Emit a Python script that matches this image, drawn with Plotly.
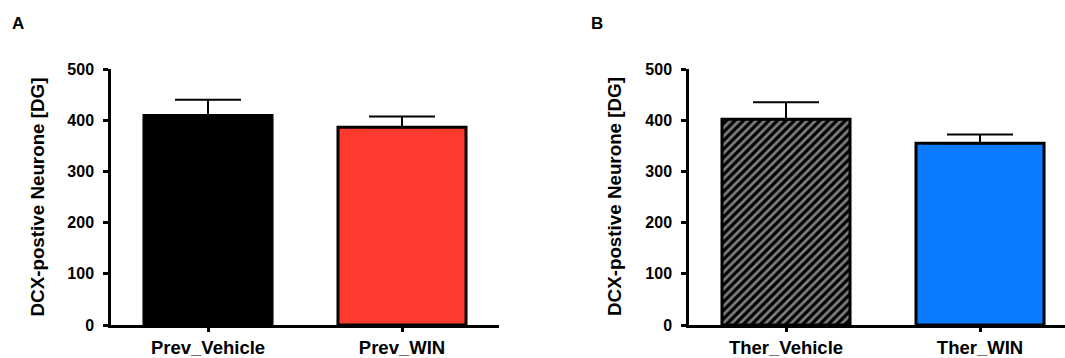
import plotly.graph_objects as go

# Data
cats_a = ["Prev_Vehicle", "Prev_WIN"]
vals_a = [409, 386]
err_a = [31, 21]

cats_b = ["Ther_Vehicle", "Ther_WIN"]
vals_b = [402, 355]
err_b = [33, 17]

y_ticks = [0, 100, 200, 300, 400, 500]
y_title = "DCX-postive Neurone [DG]"
panel_labels = ["A", "B"]

W, H = 1065, 358
FONT = "Arial, 'Liberation Sans', sans-serif"

fig = go.Figure()

fig.add_trace(go.Bar(
    x=cats_a, y=vals_a, width=0.66,
    marker=dict(color=["#000000", "#FF3B30"], line=dict(color="black", width=3)),
    error_y=dict(type="data", array=err_a, arrayminus=[0, 0], symmetric=False,
                 color="black", thickness=2, width=33),
    xaxis="x", yaxis="y", showlegend=False,
))

# Panel B: hatched vehicle bar
fig.add_trace(go.Bar(
    x=cats_b[:1], y=vals_b[:1], width=0.66,
    marker=dict(color="black", line=dict(color="black", width=3),
                pattern=dict(shape="/", fgcolor="white", size=6, solidity=0.45,
                             fillmode="overlay")),
    error_y=dict(type="data", array=err_b[:1], arrayminus=[0], symmetric=False,
                 color="black", thickness=2, width=33),
    xaxis="x2", yaxis="y2", showlegend=False,
))
# Panel B: blue WIN bar
fig.add_trace(go.Bar(
    x=cats_b[1:], y=vals_b[1:], width=0.66,
    marker=dict(color="#0A7AFF", line=dict(color="black", width=3)),
    error_y=dict(type="data", array=err_b[1:], arrayminus=[0], symmetric=False,
                 color="black", thickness=2, width=33),
    xaxis="x2", yaxis="y2", showlegend=False,
))

top, bottom = 69, 327
mb = H - bottom

def px_x(p):
    return p / W

axis_common = dict(showline=True, linecolor="black", linewidth=2.5, showgrid=False,
                   zeroline=False, ticks="outside", tickcolor="black", tickwidth=2.5,
                   mirror=False)

fig.update_layout(
    width=W, height=H,
    margin=dict(l=0, r=0, t=top, b=mb),
    paper_bgcolor="white", plot_bgcolor="white",
    font=dict(family=FONT, color="black"),
    barmode="overlay",
    xaxis=dict(domain=[px_x(111), px_x(499)], range=[-0.5, 1.5], anchor="y",
               categoryorder="array", categoryarray=cats_a,
               ticklen=4, tickfont=dict(size=18.5, weight="bold", family=FONT),
               **axis_common),
    yaxis=dict(domain=[0, 1], range=[0, 500], anchor="x", tickvals=y_ticks,
               ticklen=5, tickfont=dict(size=16, weight="bold", family=FONT),
               ticklabelstandoff=6, **axis_common),
    xaxis2=dict(domain=[px_x(689), 1.0], range=[-0.5, 1.438], anchor="y2",
                categoryorder="array", categoryarray=cats_b,
                ticklen=4, tickfont=dict(size=18.5, weight="bold", family=FONT),
                **axis_common),
    yaxis2=dict(domain=[0, 1], range=[0, 500], anchor="x2", tickvals=y_ticks,
                ticklen=5, tickfont=dict(size=16, weight="bold", family=FONT),
                ticklabelstandoff=6, **axis_common),
)

ph = bottom - top
def py(p):
    return (bottom - p) / ph

annots = []
for lbl, xp in zip(panel_labels, [10, 589]):
    annots.append(dict(text=lbl, x=px_x(xp), y=py(23.5), xref="paper", yref="paper",
                       xanchor="left", yanchor="middle", showarrow=False,
                       font=dict(size=17, weight="bold", family=FONT)))
for xc in [36.5, 614]:
    annots.append(dict(text=y_title, x=px_x(xc), y=py(198), xref="paper", yref="paper",
                       xanchor="center", yanchor="middle", textangle=-90, showarrow=False,
                       font=dict(size=18.8, weight="bold", family=FONT)))
fig.update_layout(annotations=annots)

fig.write_html("out.html")
